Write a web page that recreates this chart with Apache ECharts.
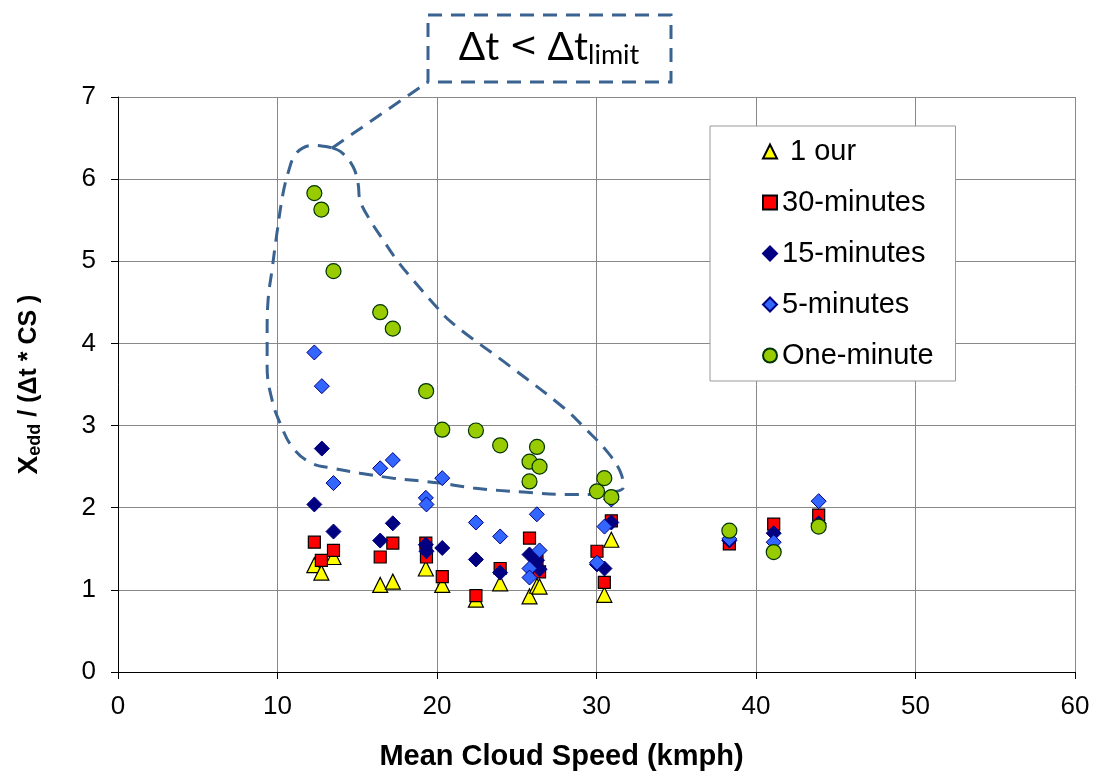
<!DOCTYPE html>
<html>
<head>
<meta charset="utf-8">
<script src="https://cdn.jsdelivr.net/npm/echarts@6/dist/echarts.min.js"></script>
<style>
    html, body { margin: 0; padding: 0; background: #fff; }
    #chart { width: 1101px; height: 773px; }
</style>
</head>
<body>
<div id="chart"></div>
<script>
    // values
    const hourX = [12.31, 12.75, 13.51, 16.44, 17.23, 19.30, 20.33, 22.44, 23.96, 25.80, 26.27, 26.43, 30.49, 30.93];
    const hourY = [1.30, 1.21, 1.40, 1.06, 1.10, 1.26, 1.06, 0.88, 1.08, 0.92, 1.05, 1.04, 0.94, 1.61];

    const min30X = [12.31, 12.75, 13.51, 16.44, 17.23, 19.30, 19.34, 20.33, 22.44, 23.96, 25.80, 26.27, 26.43, 30.03, 30.49, 30.93, 38.33, 41.11, 43.93];
    const min30Y = [1.58, 1.36, 1.48, 1.40, 1.57, 1.57, 1.40, 1.16, 0.93, 1.26, 1.63, 1.35, 1.22, 1.47, 1.09, 1.84, 1.56, 1.80, 1.91];

    const min15X = [12.31, 12.78, 13.51, 16.44, 17.23, 19.30, 19.34, 20.33, 22.44, 23.96, 25.80, 26.27, 26.43, 30.03, 30.50, 30.93, 38.33, 41.11, 43.93];
    const min15Y = [2.04, 2.72, 1.71, 1.60, 1.81, 1.55, 1.47, 1.51, 1.37, 1.21, 1.43, 1.36, 1.25, 1.31, 1.26, 1.82, 1.60, 1.69, 1.81];

    const min5X = [12.31, 12.78, 13.51, 16.44, 17.23, 19.30, 19.34, 20.33, 22.44, 23.96, 25.80, 25.80, 26.26, 26.43, 30.03, 30.50, 30.93, 38.33, 41.11, 43.93];
    const min5Y = [3.89, 3.48, 2.30, 2.48, 2.58, 2.12, 2.04, 2.36, 1.82, 1.65, 1.26, 1.15, 1.92, 1.48, 1.33, 1.77, 2.10, 1.62, 1.58, 2.08];

    const min1X = [12.31, 12.75, 13.51, 16.44, 17.23, 19.32, 20.33, 22.44, 23.96, 25.80, 25.80, 26.27, 26.43, 30.03, 30.49, 30.93, 38.33, 41.11, 43.93];
    const min1Y = [5.83, 5.63, 4.88, 4.38, 4.18, 3.42, 2.95, 2.94, 2.76, 2.56, 2.32, 2.74, 2.50, 2.20, 2.36, 2.13, 1.72, 1.46, 1.77];

    // dashed loop round the "dt < dt_limit" points, in data units
    const loopX = [13.43, 14.05, 14.74, 15.05, 15.18, 15.81, 16.62, 17.50, 18.51, 19.76, 20.95, 24.59, 27.92, 29.42, 30.68, 31.49, 31.68, 31.05, 30.05, 28.54, 25.41, 22.27, 20.20, 17.25, 15.18, 13.49, 12.05, 10.92, 10.16, 9.66, 9.35, 9.35, 9.41, 9.66, 9.97, 10.35, 10.70, 11.05, 11.60, 12.30, 12.90, 13.43];
    const loopY = [6.38, 6.32, 6.15, 5.95, 5.74, 5.50, 5.26, 5.01, 4.77, 4.49, 4.25, 3.72, 3.22, 2.94, 2.68, 2.44, 2.25, 2.19, 2.16, 2.16, 2.19, 2.24, 2.30, 2.36, 2.42, 2.48, 2.55, 2.74, 3.03, 3.31, 3.71, 4.13, 4.53, 4.90, 5.35, 5.83, 6.10, 6.28, 6.38, 6.41, 6.40, 6.38];
    const pointerX = [13.43, 19.47];
    const pointerY = [6.38, 7.19];

    const xTicks = [0, 10, 20, 30, 40, 50, 60];
    const yTicks = [0, 1, 2, 3, 4, 5, 6, 7];

    const dashColor = '#3a6391';
    const font = 'Liberation Sans, Arial, sans-serif';

    function pairs(xs, ys) {
        return xs.map(function (x, i) { return [x, ys[i]]; });
    }

    const chart = echarts.init(document.getElementById('chart'));

    const option = {
        animation: false,
        backgroundColor: '#fff',
        textStyle: { fontFamily: font },
        grid: { left: 118, right: 26, top: 97, bottom: 101, containLabel: false, outerBoundsMode: 'none' },
        legend: {
            data: [' 1 our', '30-minutes', '15-minutes', '5-minutes', 'One-minute'],
            orient: 'vertical',
            left: 710,
            top: 126,
            padding: [11, 22, 11, 52],
            itemGap: 22,
            itemWidth: 14,
            itemHeight: 14,
            borderColor: '#999',
            borderWidth: 1,
            backgroundColor: '#fff',
            selectedMode: false,
            textStyle: { fontFamily: font, fontSize: 29, color: '#000' }
        },
        xAxis: {
            type: 'value',
            min: xTicks[0],
            max: xTicks[xTicks.length - 1],
            interval: 10,
            name: 'Mean Cloud Speed (kmph)',
            nameLocation: 'middle',
            nameGap: 70,
            nameTextStyle: { fontFamily: font, fontSize: 29, fontWeight: 'bold', color: '#000', padding: [0, 70, 0, 0] },
            axisLine: { show: true, onZero: false, lineStyle: { color: '#000', width: 1 } },
            axisTick: { show: true, inside: false, length: 7, lineStyle: { color: '#000' } },
            axisLabel: { fontFamily: font, fontSize: 26, color: '#000', margin: 22 },
            splitLine: { show: true, lineStyle: { color: '#888', width: 1 } }
        },
        yAxis: {
            type: 'value',
            min: yTicks[0],
            max: yTicks[yTicks.length - 1],
            interval: 1,
            name: '{x|X}{s|edd}{r| / (Δt * CS )}',
            nameLocation: 'middle',
            nameGap: 74,
            nameTextStyle: {
                color: '#000',
                rich: {
                    x: { fontFamily: font, fontSize: 28, fontWeight: 'bold', color: '#000' },
                    s: { fontFamily: font, fontSize: 18, fontWeight: 'bold', color: '#000', padding: [12, 0, 0, 0] },
                    r: { fontFamily: font, fontSize: 25, fontWeight: 'bold', color: '#000' }
                }
            },
            axisLine: { show: true, lineStyle: { color: '#000', width: 1 } },
            axisTick: { show: true, inside: false, length: 7, lineStyle: { color: '#000' } },
            axisLabel: { fontFamily: font, fontSize: 26, color: '#000', margin: 22 },
            splitLine: { show: true, lineStyle: { color: '#888', width: 1 } }
        },
        series: [
            {
                name: 'loop',
                type: 'line',
                data: pairs(loopX, loopY),
                smooth: 0.4,
                showSymbol: false,
                symbol: 'none',
                clip: false,
                silent: true,
                lineStyle: { color: dashColor, width: 3, type: [14, 9] },
                z: 1
            },
            {
                name: 'pointer',
                type: 'line',
                data: pairs(pointerX, pointerY),
                showSymbol: false,
                symbol: 'none',
                clip: false,
                silent: true,
                lineStyle: { color: dashColor, width: 3, type: [14, 9] },
                z: 1
            },
            {
                name: ' 1 our',
                type: 'scatter',
                data: pairs(hourX, hourY),
                symbol: 'triangle',
                symbolSize: 15,
                itemStyle: { color: '#ffff00', borderColor: '#000', borderWidth: 1.2, opacity: 1 },
                z: 3
            },
            {
                name: '30-minutes',
                type: 'scatter',
                data: pairs(min30X, min30Y),
                symbol: 'rect',
                symbolSize: 12,
                itemStyle: { color: '#ff0000', borderColor: '#000', borderWidth: 1.2, opacity: 1 },
                z: 4
            },
            {
                name: '15-minutes',
                type: 'scatter',
                data: pairs(min15X, min15Y),
                symbol: 'diamond',
                symbolSize: 15,
                itemStyle: { color: '#000080', borderColor: '#000080', borderWidth: 1, opacity: 1 },
                z: 5
            },
            {
                name: '5-minutes',
                type: 'scatter',
                data: pairs(min5X, min5Y),
                symbol: 'diamond',
                symbolSize: 15,
                itemStyle: { color: '#3366ff', borderColor: '#000080', borderWidth: 1, opacity: 1 },
                z: 6
            },
            {
                name: 'One-minute',
                type: 'scatter',
                data: pairs(min1X, min1Y),
                symbol: 'circle',
                symbolSize: 15,
                itemStyle: { color: '#99cc00', borderColor: '#003300', borderWidth: 1.2, opacity: 1 },
                z: 7
            }
        ],
        graphic: [
            {
                type: 'rect',
                shape: { x: 428, y: 15, width: 243, height: 67 },
                style: { fill: 'none', stroke: dashColor, lineWidth: 3, lineDash: [14, 9] },
                z: 10
            },
            {
                type: 'text',
                x: 549,
                y: 47,
                style: {
                    text: '{a|Δt }{c|<}{a| Δt}{b|limit}',
                    align: 'center',
                    verticalAlign: 'middle',
                    rich: {
                        a: { fontFamily: 'Lato, Open Sans, sans-serif', fontSize: 39, fill: '#000', color: '#000' },
                        c: { fontFamily: 'DejaVu Sans, sans-serif', fontSize: 34, fill: '#000', color: '#000' },
                        b: { fontFamily: 'Lato, Open Sans, sans-serif', fontSize: 27, fill: '#000', color: '#000', padding: [16, 0, 0, 0] }
                    }
                },
                z: 10
            }
        ]
    };

    chart.setOption(option);
    window.addEventListener('resize', function () { chart.resize(); });
</script>
</body>
</html>
